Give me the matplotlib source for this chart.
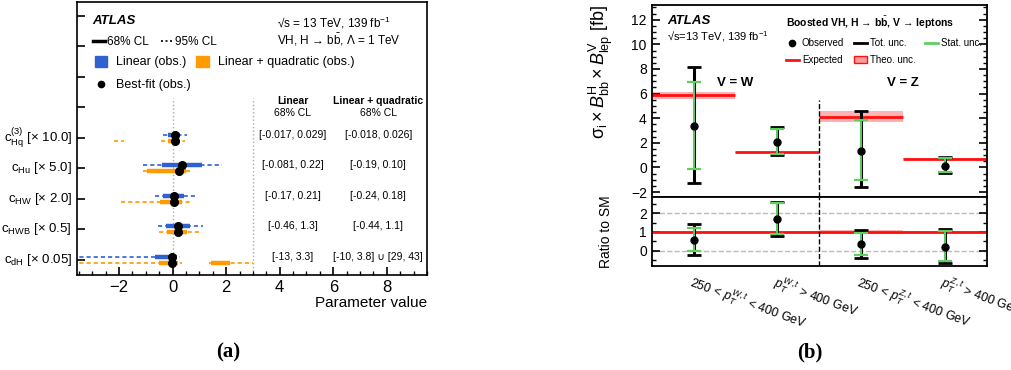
import numpy as np
import matplotlib
matplotlib.use('Agg')
import matplotlib.pyplot as plt
from matplotlib.lines import Line2D
from matplotlib.patches import Patch
from matplotlib.ticker import MultipleLocator

plt.rcParams['font.family'] = ['Liberation Sans', 'DejaVu Sans']
plt.rcParams['mathtext.fontset'] = 'custom'
plt.rcParams['mathtext.rm'] = 'Liberation Sans'
plt.rcParams['mathtext.it'] = 'Liberation Sans:italic'
plt.rcParams['mathtext.bf'] = 'Liberation Sans:bold'
plt.rcParams['mathtext.sf'] = 'Liberation Sans'
plt.rcParams['axes.unicode_minus'] = True

#~~~~~~~~ (a) EFT coefficients ~~~~~~~~~~~~
coeffs = [r'$\mathrm{c}_{\mathrm{Hq}}^{(3)}$', r'$\mathrm{c}_{\mathrm{Hu}}$', r'$\mathrm{c}_{\mathrm{HW}}$',
          r'$\mathrm{c}_{\mathrm{HWB}}$', r'$\mathrm{c}_{\mathrm{dH}}$']
scale = [10.0, 5.0, 2.0, 0.5, 0.05]
lin_68 = [[(-0.017, 0.029)], [(-0.081, 0.22)], [(-0.17, 0.21)], [(-0.46, 1.3)], [(-13, 3.3)]]
lin_95 = [[(-0.034, 0.054)], [(-0.218, 0.372)], [(-0.33, 0.43)], [(-1.08, 2.3)], [(-80, 5.5)]]
lin_best = [0.0075, 0.068, 0.025, 0.42, -0.2]
quad_68 = [[(-0.018, 0.026)], [(-0.19, 0.10)], [(-0.24, 0.18)], [(-0.44, 1.1)], [(-10, 3.8), (29, 43)]]
quad_95 = [[(-0.22, -0.18), (-0.042, 0.045)], [(-0.222, 0.152)], [(-0.955, 0.325)], [(-1.0, 1.98)],
           [(-80, 6.8), (27.2, 60)]]
quad_best = [0.0075, 0.048, 0.025, 0.44, -0.2]
lin_txt = ['[-0.017, 0.029]', '[-0.081, 0.22]', '[-0.17, 0.21]', '[-0.46, 1.3]', '[-13, 3.3]']
quad_txt = ['[-0.018, 0.026]', '[-0.19, 0.10]', '[-0.24, 0.18]', '[-0.44, 1.1]', '[-10, 3.8] \u222a [29, 43]']

#~~~~~~~~ (b) STXS cross sections ~~~~~~~~~
bin_labels = [r'250 < $p_{T}^{W,t}$ < 400 GeV', r'$p_{T}^{W,t}$ > 400 GeV',
              r'250 < $p_{T}^{Z,t}$ < 400 GeV', r'$p_{T}^{Z,t}$ > 400 GeV']
obs = [3.35, 2.08, 1.35, 0.15]
tot_hi = [8.16, 3.27, 4.57, 0.81]
tot_lo = [-1.25, 1.0, -1.57, -0.49]
stat_hi = [6.94, 3.13, 3.89, 0.73]
stat_lo = [-0.16, 1.13, -1.03, -0.40]
expected = [5.86, 1.23, 4.12, 0.70]
theo = [0.27, 0.05, 0.45, 0.05]

ratio_obs = [0.585, 1.69, 0.37, 0.23]
ratio_tot_hi = [1.40, 2.59, 1.12, 1.17]
ratio_tot_lo = [-0.21, 0.81, -0.36, -0.62]
ratio_stat_hi = [1.19, 2.54, 0.97, 1.03]
ratio_stat_lo = [0.0, 0.90, -0.21, -0.52]
ratio_theo = [0.05, 0.04, 0.11, 0.07]

blue = '#2f62d0'
orange = '#ff9a00'
green = '#5fcf5f'
red = '#ff1010'
pink = '#ff9a9a'

fig = plt.figure(figsize=(10.12, 3.7), dpi=100)

#~~~~~~~~ panel (a) ~~~~~~~~~~~~~~~~~~~~~~~~
axa = fig.add_axes([0.0761, 0.2568, 0.3458, 0.7378])
ypos = np.arange(len(coeffs))[::-1]
dy = 0.1
for i, y in enumerate(ypos):
    s = scale[i]
    for lo, hi in lin_95[i]:
        axa.plot([lo*s, hi*s], [y+dy]*2, color=blue, lw=1.2, ls=(0, (2.5, 1.8)), zorder=2)
    for lo, hi in quad_95[i]:
        axa.plot([lo*s, hi*s], [y-dy]*2, color=orange, lw=1.2, ls=(0, (2.5, 1.8)), zorder=2)
    for lo, hi in lin_68[i]:
        axa.plot([lo*s, hi*s], [y+dy]*2, color=blue, lw=3.2, solid_capstyle='butt', zorder=3)
    for lo, hi in quad_68[i]:
        axa.plot([lo*s, hi*s], [y-dy]*2, color=orange, lw=3.2, solid_capstyle='butt', zorder=3)
axa.plot(np.array(lin_best)*np.array(scale), ypos+dy, 'o', color='k', ms=5.5, zorder=4)
axa.plot(np.array(quad_best)*np.array(scale), ypos-dy, 'o', color='k', ms=5.5, zorder=4)

axa.set_xlim(-3.57, 9.5)
axa.set_ylim(-0.5, 8.45)
axa.axvline(0, ymax=0.648, color='#aaaaaa', ls=':', lw=1, zorder=1)
axa.axvline(3, ymax=0.648, color='#aaaaaa', ls=':', lw=1, zorder=1)
axa.set_yticks(range(9))
axa.set_yticklabels([])
axa.xaxis.set_major_locator(MultipleLocator(2))
axa.xaxis.set_minor_locator(MultipleLocator(0.5))
axa.tick_params(which='both', direction='in', labelsize=12)
axa.tick_params(which='major', length=6, width=1.2)
axa.tick_params(which='minor', length=3, width=1)
axa.set_xlabel('Parameter value', fontsize=11, loc='right', labelpad=1)
for sp in axa.spines.values():
    sp.set_linewidth(1.2)

ytr = axa.get_yaxis_transform()
for i, y in enumerate(ypos):
    axa.text(-0.014, y, '%s [\u00d7 %s]' % (coeffs[i], scale[i]), transform=ytr,
             ha='right', va='center', fontsize=9.5)
    axa.text(4.49, y+dy, lin_txt[i], ha='center', va='center', fontsize=7.5)
    axa.text(7.68, y+dy, quad_txt[i], ha='center', va='center', fontsize=7.5)
axa.text(4.49, 5.2, 'Linear', ha='center', va='center', fontsize=7.5, fontweight='bold')
axa.text(4.49, 4.81, '68% CL', ha='center', va='center', fontsize=7.5)
axa.text(7.68, 5.2, 'Linear + quadratic', ha='center', va='center', fontsize=7.5, fontweight='bold')
axa.text(7.68, 4.81, '68% CL', ha='center', va='center', fontsize=7.5)

axa.text(0.043, 0.930, 'ATLAS', transform=axa.transAxes, fontsize=9.5, fontweight='bold',
         style='italic', va='center')
axa.text(0.571, 0.923, '\u221as = 13 TeV, 139 fb$^{-1}$', transform=axa.transAxes, fontsize=8.5, va='center')
axa.text(0.571, 0.861, 'VH, H \u2192 b$\\bar{\\mathrm{b}}$, \u039b = 1 TeV', transform=axa.transAxes,
         fontsize=8.5, va='center')

leg1 = axa.legend(handles=[Line2D([], [], color='k', lw=2.5), Line2D([], [], color='k', lw=1.2, ls=(0, (1.2, 1.5)))],
                  labels=['68% CL', '95% CL'], ncol=2, loc='center left', bbox_to_anchor=(0.046, 0.853),
                  frameon=False, fontsize=8.5, handlelength=1.0, handletextpad=0.2, columnspacing=1.0,
                  borderpad=0, borderaxespad=0)
axa.add_artist(leg1)
leg2 = axa.legend(handles=[Patch(color=blue), Patch(color=orange)],
                  labels=['Linear (obs.)', 'Linear + quadratic (obs.)'], ncol=2, loc='center left',
                  bbox_to_anchor=(0.051, 0.78), frameon=False, fontsize=9, handlelength=1.0,
                  handleheight=1.0, handletextpad=0.7, columnspacing=0.8, borderpad=0, borderaxespad=0)
axa.add_artist(leg2)
axa.legend(handles=[Line2D([], [], marker='o', color='k', ls='none', ms=4.5)], labels=['Best-fit (obs.)'],
           loc='center left', bbox_to_anchor=(0.046, 0.696), frameon=False, fontsize=9,
           handlelength=1.3, handletextpad=0.5, borderpad=0, borderaxespad=0)

#~~~~~~~~ panel (b) main ~~~~~~~~~~~~~~~~~~~
axb = fig.add_axes([0.644, 0.4676, 0.331, 0.519])
axr = fig.add_axes([0.644, 0.2811, 0.331, 0.1865], sharex=axb)
x = np.arange(len(obs)) + 0.5
edges = np.arange(len(obs) + 1)


def draw_bins(ax, val, thi, tlo, shi, slo, exp, unc):
    val = np.array(val)
    ax.bar(x, 2*np.array(unc), bottom=np.array(exp)-np.array(unc), width=1.0, color=pink, alpha=0.75,
           lw=0, zorder=1)
    ax.hlines(exp, edges[:-1], edges[1:], color=red, lw=2, zorder=2)
    ax.errorbar(x, val, yerr=[val-np.array(tlo), np.array(thi)-val], fmt='none', ecolor='k',
                elinewidth=2.2, capsize=5, capthick=2, zorder=3)
    ax.errorbar(x, val, yerr=[val-np.array(slo), np.array(shi)-val], fmt='none', ecolor=green,
                elinewidth=1.4, capsize=5, capthick=1.6, zorder=4)
    ax.plot(x, val, 'o', color='k', ms=5, zorder=5)


draw_bins(axb, obs, tot_hi, tot_lo, stat_hi, stat_lo, expected, theo)
axb.set_xlim(0, 4)
axb.set_ylim(-2.4, 13.2)
axb.axvline(2, ymax=0.506, color='k', ls='--', lw=1)
axb.yaxis.set_major_locator(MultipleLocator(2))
axb.yaxis.set_minor_locator(MultipleLocator(0.5))
axb.tick_params(axis='y', which='both', direction='in', left=True, right=True, labelsize=10)
axb.tick_params(axis='y', which='major', length=6, width=1.2)
axb.tick_params(axis='y', which='minor', length=3, width=1)
axb.tick_params(axis='x', length=0, labelbottom=False)
axb.set_ylabel(r'$\mathrm{\sigma}_{\mathrm{i}} \times B^{\mathrm{H}}_{\mathrm{bb}} \times B^{\mathrm{V}}_{\mathrm{lep}}$ [fb]',
               fontsize=13, loc='top')
axb.yaxis.set_label_coords(-0.11, 1.0)
axb.text(1.0, 6.84, 'V = W', ha='center', va='center', fontsize=9.5, fontweight='bold')
axb.text(3.0, 6.84, 'V = Z', ha='center', va='center', fontsize=9.5, fontweight='bold')
axb.text(0.046, 0.917, 'ATLAS', transform=axb.transAxes, fontsize=9.5, fontweight='bold',
         style='italic', va='center')
axb.text(0.046, 0.833, '\u221as=13 TeV, 139 fb$^{-1}$', transform=axb.transAxes, fontsize=8, va='center')
handles = [Line2D([], [], marker='o', color='k', ls='none', ms=4.5), Line2D([], [], color=red, lw=2),
           Line2D([], [], color='k', lw=2), Patch(facecolor=pink, edgecolor=red, lw=1),
           Line2D([], [], color=green, lw=2)]
labels = ['Observed', 'Expected', 'Tot. unc.', 'Theo. unc.', 'Stat. unc.']
leg = axb.legend(handles=handles, labels=labels, ncol=3, loc='upper left', bbox_to_anchor=(0.40, 0.95),
                 frameon=False, fontsize=7, handlelength=1.35, handletextpad=0.3, columnspacing=1.0,
                 labelspacing=0.75, borderpad=0, borderaxespad=0,
                 title='Boosted VH, H \u2192 b$\\bar{\\mathbf{b}}$, V \u2192 leptons',
                 title_fontproperties={'weight': 'bold', 'size': 7.5}, alignment='left')

#~~~~~~~~ panel (b) ratio ~~~~~~~~~~~~~~~~~~
axr.bar(x, 2*np.array(ratio_theo), bottom=1-np.array(ratio_theo), width=1.0, color=pink, alpha=0.75, lw=0, zorder=1)
axr.axhline(1, color=red, lw=2, zorder=2)
axr.axhline(0, color='#bbbbbb', ls='--', lw=1, zorder=0)
axr.axhline(2, color='#bbbbbb', ls='--', lw=1, zorder=0)
ro = np.array(ratio_obs)
axr.errorbar(x, ro, yerr=[ro-np.array(ratio_tot_lo), np.array(ratio_tot_hi)-ro], fmt='none', ecolor='k',
             elinewidth=2.2, capsize=5, capthick=2, zorder=3)
axr.errorbar(x, ro, yerr=[ro-np.array(ratio_stat_lo), np.array(ratio_stat_hi)-ro], fmt='none', ecolor=green,
             elinewidth=1.4, capsize=5, capthick=1.6, zorder=4)
axr.plot(x, ro, 'o', color='k', ms=5, zorder=5)
axr.axvline(2, color='k', ls='--', lw=1)
axr.set_ylim(-0.8, 2.85)
axr.yaxis.set_major_locator(MultipleLocator(1))
axr.yaxis.set_minor_locator(MultipleLocator(0.5))
axr.tick_params(axis='y', which='both', direction='in', left=True, right=True, labelsize=10)
axr.tick_params(axis='y', which='major', length=6, width=1.2)
axr.tick_params(axis='y', which='minor', length=3, width=1)
axr.set_xticks(x)
axr.set_xticklabels(bin_labels, rotation=-20, ha='left', va='top', rotation_mode='anchor', fontsize=9)
axr.tick_params(axis='x', length=0, pad=5)
axr.set_ylabel('Ratio to SM', fontsize=10)
axr.yaxis.set_label_coords(-0.115, 0.5)
for a in (axb, axr):
    for sp in a.spines.values():
        sp.set_linewidth(1.3)

fig.text(0.2253, 0.0486, '(a)', family='Liberation Serif', fontweight='bold', fontsize=15, ha='center', va='center')
fig.text(0.8004, 0.0486, '(b)', family='Liberation Serif', fontweight='bold', fontsize=15, ha='center', va='center')

fig.savefig('out.png', dpi=100)
